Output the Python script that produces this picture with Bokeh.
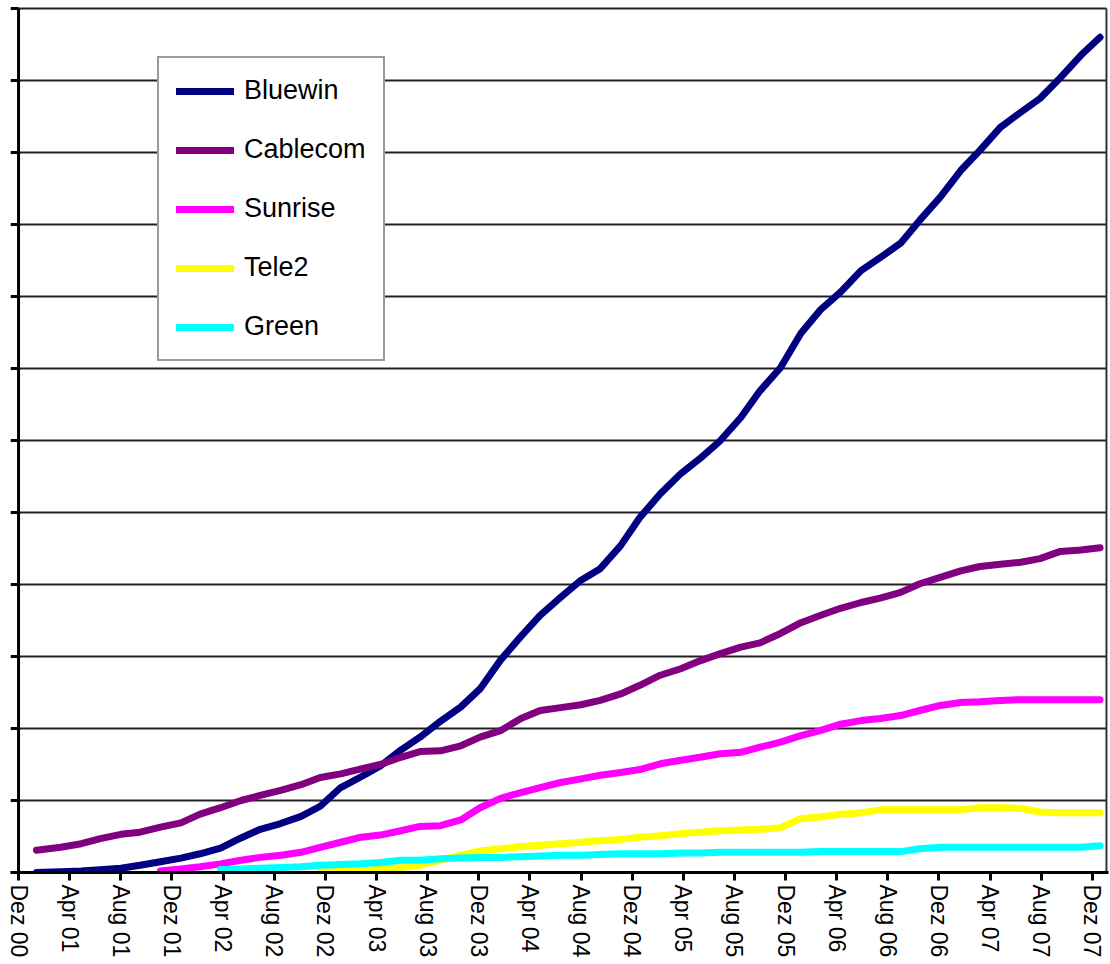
from bokeh.plotting import figure
from bokeh.models import Range1d, FixedTicker, Legend, LegendItem
from bokeh.embed import file_html
from bokeh.resources import INLINE

# Months counted from "Dez 00" (0) to "Dez 07" (84)
MONTHS = [1.4, 3.3, 4.9, 6.4, 8.0, 9.5, 11.1, 12.7, 14.2, 15.8, 17.4, 18.9, 20.5,
          22.1, 23.6, 25.2, 26.8, 28.3, 29.9, 31.4, 33.0, 34.6, 36.1, 37.7, 39.3,
          40.8, 42.4, 44.0, 45.5, 47.1, 48.6, 50.2, 51.8, 53.3, 54.9, 56.5, 58.0,
          59.6, 61.2, 62.7, 64.3, 65.9, 67.4, 69.0, 70.5, 72.1, 73.7, 75.2, 76.8,
          78.4, 79.9, 81.5, 83.1, 84.6]
X_END = 85.1

TICK_MONTHS = list(range(0, 85, 4))
TICK_LABELS = ["Dez 00", "Apr 01", "Aug 01", "Dez 01", "Apr 02", "Aug 02", "Dez 02",
               "Apr 03", "Aug 03", "Dez 03", "Apr 04", "Aug 04", "Dez 04", "Apr 05",
               "Aug 05", "Dez 05", "Apr 06", "Aug 06", "Dez 06", "Apr 07", "Aug 07",
               "Dez 07"]

# unlabelled y axis: values in gridline units
Y_TICKS = list(range(0, 13))

bluewin = [0.0, 0.01, 0.02, 0.04, 0.06, 0.1, 0.15, 0.2, 0.26, 0.34, 0.48, 0.6, 0.68,
           0.78, 0.92, 1.18, 1.33, 1.48, 1.7, 1.88, 2.1, 2.3, 2.55, 2.95, 3.28, 3.57,
           3.82, 4.06, 4.22, 4.54, 4.93, 5.26, 5.54, 5.75, 6.0, 6.32, 6.69, 7.01, 7.49,
           7.81, 8.06, 8.36, 8.54, 8.74, 9.06, 9.38, 9.75, 10.03, 10.35, 10.56, 10.75,
           11.04, 11.35, 11.6]
cablecom = [0.31, 0.35, 0.40, 0.47, 0.53, 0.56, 0.63, 0.69, 0.81, 0.90, 1.0, 1.07,
            1.14, 1.22, 1.32, 1.37, 1.44, 1.50, 1.60, 1.68, 1.69, 1.76, 1.88, 1.97,
            2.14, 2.25, 2.29, 2.33, 2.39, 2.48, 2.60, 2.74, 2.83, 2.94, 3.04, 3.13,
            3.19, 3.32, 3.47, 3.57, 3.67, 3.75, 3.81, 3.89, 4.01, 4.10, 4.19, 4.25,
            4.28, 4.31, 4.36, 4.46, 4.48, 4.51]
sunrise = [0.02, 0.05, 0.08, 0.12, 0.17, 0.21, 0.24, 0.28, 0.35, 0.42, 0.49, 0.52,
           0.58, 0.64, 0.65, 0.73, 0.90, 1.03, 1.11, 1.18, 1.25, 1.30, 1.35, 1.39,
           1.43, 1.51, 1.56, 1.60, 1.65, 1.67, 1.74, 1.81, 1.90, 1.97, 2.06, 2.11,
           2.14, 2.18, 2.25, 2.32, 2.36, 2.37, 2.39, 2.40, 2.40, 2.40, 2.40, 2.40]
tele2 = [0.01, 0.03, 0.04, 0.05, 0.07, 0.10, 0.17, 0.24, 0.30, 0.33, 0.36, 0.38,
         0.40, 0.42, 0.44, 0.46, 0.49, 0.51, 0.54, 0.56, 0.58, 0.59, 0.60, 0.62,
         0.75, 0.77, 0.81, 0.83, 0.87, 0.87, 0.87, 0.87, 0.87, 0.90, 0.90, 0.89,
         0.84, 0.83, 0.83, 0.83]
green = [0.04, 0.05, 0.06, 0.07, 0.08, 0.10, 0.11, 0.12, 0.14, 0.17, 0.17, 0.19,
         0.20, 0.21, 0.21, 0.22, 0.23, 0.24, 0.24, 0.25, 0.26, 0.26, 0.26, 0.27,
         0.27, 0.28, 0.28, 0.28, 0.28, 0.28, 0.29, 0.29, 0.29, 0.29, 0.29, 0.33,
         0.35, 0.35, 0.35, 0.35, 0.35, 0.35, 0.35, 0.35, 0.37]

SERIES = [("Bluewin", bluewin, "#000080"),
          ("Cablecom", cablecom, "#800080"),
          ("Sunrise", sunrise, "#FF00FF"),
          ("Tele2", tele2, "#FFFF00"),
          ("Green", green, "#00FFFF")]

FONT = "Liberation Sans"
TICK_LEN = 0.63   # y tick mark length, in months (about 8 px)
PAD_X = 0.16      # small room right of the right border
PAD_Y = 0.028     # small room above the top gridline

p = figure(width=1110, height=964, output_backend="svg", toolbar_location=None,
           x_range=Range1d(-TICK_LEN, X_END + PAD_X),
           y_range=Range1d(0, Y_TICKS[-1] + PAD_Y),
           y_axis_location=None,
           min_border_left=10, min_border_right=2, min_border_top=6,
           min_border_bottom=92)
p.background_fill_color = "white"
p.border_fill_color = "white"
p.outline_line_color = None
p.xgrid.grid_line_color = None
p.ygrid.grid_line_color = None

# x axis
p.xaxis.ticker = FixedTicker(ticks=TICK_MONTHS)
p.xaxis.major_label_overrides = {m: lab for m, lab in zip(TICK_MONTHS, TICK_LABELS)}
p.xaxis.major_label_orientation = "vertical"
p.xaxis.major_label_text_font = FONT
p.xaxis.major_label_text_font_size = "23px"
p.xaxis.major_label_text_color = "black"
p.xaxis.major_label_standoff = 4
p.xaxis.major_tick_out = 8
p.xaxis.major_tick_in = 0
p.xaxis.minor_tick_line_color = None
p.xaxis.major_tick_line_width = 3
p.xaxis.axis_line_width = 3
p.xaxis.axis_line_color = "black"

# horizontal gridlines, top border and right border
grid_y = Y_TICKS[1:]
p.segment(x0=[0] * len(grid_y), x1=[X_END] * len(grid_y), y0=grid_y, y1=grid_y,
          line_color="#222222", line_width=2)
p.segment(x0=[X_END], x1=[X_END], y0=[0], y1=[Y_TICKS[-1]],
          line_color="#333333", line_width=2)

items = []
for name, vals, color in SERIES:
    xs = MONTHS[-len(vals):]
    r = p.line(xs, vals, line_color=color, line_width=7, line_cap="round",
               line_join="round")
    items.append(LegendItem(label=name, renderers=[r]))

# unlabelled y axis: axis line and outward tick marks
p.segment(x0=[0], x1=[0], y0=[0], y1=[Y_TICKS[-1]], line_color="black", line_width=3)
p.segment(x0=[-TICK_LEN] * len(Y_TICKS), x1=[0] * len(Y_TICKS), y0=Y_TICKS,
          y1=Y_TICKS, line_color="black", line_width=3)

legend = Legend(items=items, location=(147, 511), margin=0, padding=17,
                spacing=28, glyph_width=58, glyph_height=30, label_height=30,
                label_standoff=10, label_text_font=FONT, label_text_font_size="27px",
                label_text_color="black", border_line_color="#333333",
                border_line_width=2, background_fill_color="white",
                background_fill_alpha=1.0)
p.add_layout(legend, "center")

open("out.html", "w").write(file_html(p, INLINE))
